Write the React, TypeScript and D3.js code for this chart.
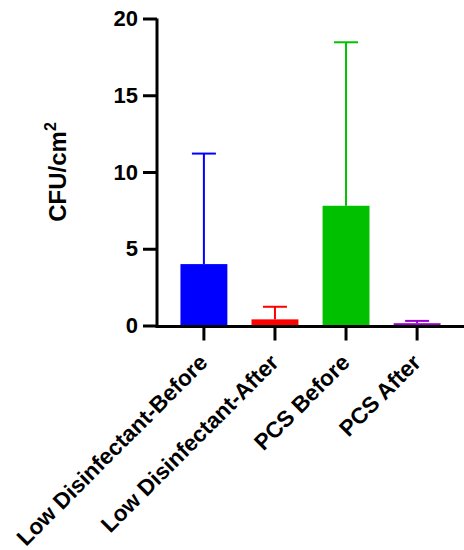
import React, { useEffect, useRef } from 'react';
import * as d3 from 'd3';

const categories = ['Low Disinfectant-Before', 'Low Disinfectant-After', 'PCS Before', 'PCS After'];
const means = [4.0, 0.4, 7.8, 0.15];
const errorTops = [11.2, 1.22, 18.45, 0.3];
const colors = ['#0000ff', '#ff0000', '#00c000', '#9900cc'];
const yTicks = [0, 5, 10, 15, 20];

const W = 464;
const H = 550;
const FONT = "'Liberation Sans', Arial, sans-serif";

const App = () => {
    const svgRef = useRef<SVGSVGElement>(null);

    useEffect(() => {
        const svg = d3.select(svgRef.current);
        svg.selectAll('*').remove();

        const x = d3.scaleBand<string>()
            .domain(categories)
            .range([157, 464])
            .paddingInner(0.34)
            .paddingOuter(0.33);

        const y = d3.scaleLinear()
            .domain([0, 20])
            .range([325.5, 18.5]);

        // bars
        svg.selectAll('.bar')
            .data(categories)
            .join('rect')
            .attr('class', 'bar')
            .attr('x', d => x(d)!)
            .attr('width', x.bandwidth())
            .attr('y', (d, i) => y(means[i]))
            .attr('height', (d, i) => y(0) - y(means[i]))
            .attr('fill', (d, i) => colors[i]);

        // error bars (upper only)
        const err = svg.append('g');
        categories.forEach((c, i) => {
            const cx = x(c)! + x.bandwidth() / 2;
            err.append('line')
                .attr('x1', cx).attr('x2', cx)
                .attr('y1', y(means[i])).attr('y2', y(errorTops[i]))
                .attr('stroke', colors[i]).attr('stroke-width', 2);
            err.append('line')
                .attr('x1', cx - 12).attr('x2', cx + 12)
                .attr('y1', y(errorTops[i])).attr('y2', y(errorTops[i]))
                .attr('stroke', colors[i]).attr('stroke-width', 2);
        });

        // y axis
        const yAxis = d3.axisLeft(y)
            .tickValues(yTicks)
            .tickSize(14)
            .tickPadding(5);
        const gy = svg.append('g')
            .attr('transform', 'translate(157,0)')
            .call(yAxis);
        gy.select('.domain').attr('stroke', '#000').attr('stroke-width', 3)
            .attr('d', `M0,${y(20)}V${y(0) + 1.5}`);
        gy.selectAll('.tick line').attr('stroke', '#000').attr('stroke-width', 3);
        gy.selectAll('.tick text')
            .attr('font-family', FONT)
            .attr('font-weight', 'bold')
            .attr('font-size', 22)
            .attr('fill', '#000');

        // x axis
        const xAxis = d3.axisBottom(x)
            .tickSize(14)
            .tickFormat(() => '');
        const gx = svg.append('g')
            .attr('transform', `translate(0,${y(0) + 1})`)
            .call(xAxis);
        gx.select('.domain').attr('stroke', '#000').attr('stroke-width', 3)
            .attr('d', 'M155.5,0H464');
        gx.selectAll('.tick line').attr('stroke', '#000').attr('stroke-width', 3);

        // x labels
        svg.append('g')
            .selectAll('text')
            .data(categories)
            .join('text')
            .attr('transform', d => `translate(${x(d)! + x.bandwidth() / 2 + 5},${364}) rotate(-45)`)
            .attr('text-anchor', 'end')
            .attr('font-family', FONT)
            .attr('font-weight', 'bold')
            .attr('font-size', 22.5)
            .attr('fill', '#000')
            .text(d => d);

        // y title
        const title = svg.append('text')
            .attr('transform', 'translate(66,172) rotate(-90)')
            .attr('text-anchor', 'middle')
            .attr('font-family', FONT)
            .attr('font-weight', 'bold')
            .attr('font-size', 24)
            .attr('fill', '#000');
        title.append('tspan').text('CFU/cm');
        title.append('tspan').attr('font-size', 16).attr('dy', -10).text('2');
    }, []);

    return (
        <svg
            ref={svgRef}
            width={W}
            height={H}
            style={{ position: 'absolute', left: 0, top: 0, background: '#fff' }}
        />
    );
};

export default App;
